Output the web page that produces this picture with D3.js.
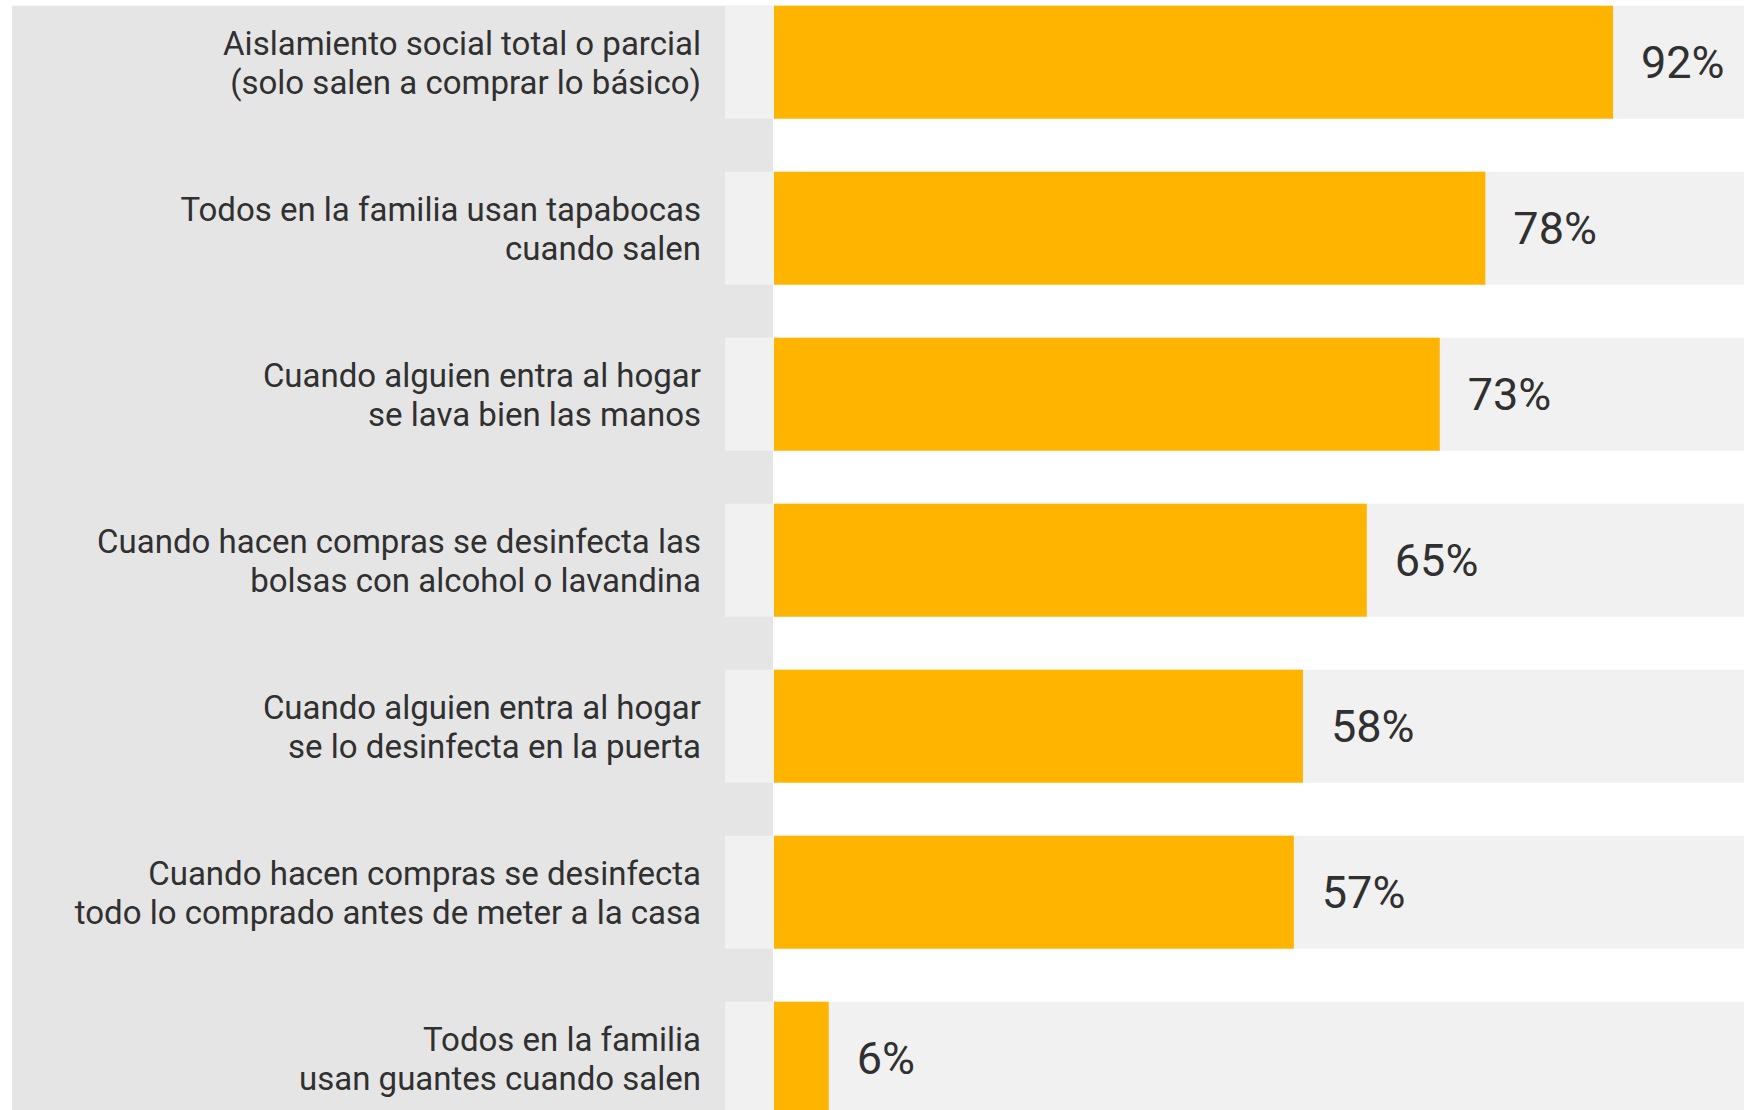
<!DOCTYPE html>
<html>
<head>
<meta charset="utf-8">
<script src="https://cdn.jsdelivr.net/npm/d3@7"></script>
<style>
  html, body { margin: 0; padding: 0; background: #fff; }
  svg { display: block; }
</style>
</head>
<body>
<div id="chart"></div>
<script>
// Categories (line breaks as in the original), values in %
var categories = [
  "Aislamiento social total o parcial\n(solo salen a comprar lo básico)",
  "Todos en la familia usan tapabocas\ncuando salen",
  "Cuando alguien entra al hogar\nse lava bien las manos",
  "Cuando hacen compras se desinfecta las\nbolsas con alcohol o lavandina",
  "Cuando alguien entra al hogar\nse lo desinfecta en la puerta",
  "Cuando hacen compras se desinfecta\ntodo lo comprado antes de meter a la casa",
  "Todos en la familia\nusan guantes cuando salen"
];
var values = [92, 78, 73, 65, 58, 57, 6];

var width = 1744, height = 1110;
var panelLeft = 12, panelRight = 773, bandLeft = 725, labelRight = 701;

var svg = d3.select("#chart").append("svg")
  .attr("width", width).attr("height", height);

// Row scale
var y = d3.scaleBand()
  .domain(categories)
  .range([5.7, 5.7 + 6 * 166 + 113])
  .paddingInner(53 / 166)
  .paddingOuter(0);

// Value scale
var x = d3.scaleLinear().domain([0, 100]).range([774, 1686]);

// Grey label panel
svg.append("rect")
  .attr("x", panelLeft).attr("y", y(categories[0]))
  .attr("width", panelRight - panelLeft).attr("height", height - y(categories[0]))
  .attr("fill", "#e5e5e5");

// Light background bands
svg.selectAll(".band")
  .data(categories).join("rect")
    .attr("class", "band")
    .attr("x", bandLeft).attr("y", function (d) { return y(d); })
    .attr("width", width - bandLeft).attr("height", y.bandwidth())
    .attr("fill", "#f1f1f1");

// Bars
svg.selectAll(".bar")
  .data(values).join("rect")
    .attr("class", "bar")
    .attr("x", x(0)).attr("y", function (d, i) { return y(categories[i]); })
    .attr("width", function (d) { return x(d) - x(0); })
    .attr("height", y.bandwidth())
    .attr("fill", "#ffb400");

// Value labels
svg.selectAll(".val")
  .data(values).join("text")
    .attr("class", "val")
    .attr("x", function (d) { return x(d) + 28; })
    .attr("y", function (d, i) { return y(categories[i]) + y.bandwidth() / 2; })
    .attr("dy", "0.36em")
    .attr("font-family", "Roboto, sans-serif").attr("font-size", 45)
    .attr("fill", "#303030")
    .text(function (d) { return d + "%"; });

// Category labels
var lab = svg.selectAll(".cat")
  .data(categories).join("text")
    .attr("class", "cat")
    .attr("text-anchor", "end")
    .attr("font-family", "Roboto, sans-serif").attr("font-size", 33)
    .attr("fill", "#303030");

lab.each(function (d) {
  var lines = d.split("\n");
  var cy = y(d) + y.bandwidth() / 2;
  var lh = 39;
  var t = d3.select(this);
  lines.forEach(function (ln, k) {
    t.append("tspan")
      .attr("x", labelRight)
      .attr("y", cy + (k - (lines.length - 1) / 2) * lh)
      .attr("dy", "0.36em")
      .text(ln);
  });
});
</script>
</body>
</html>
